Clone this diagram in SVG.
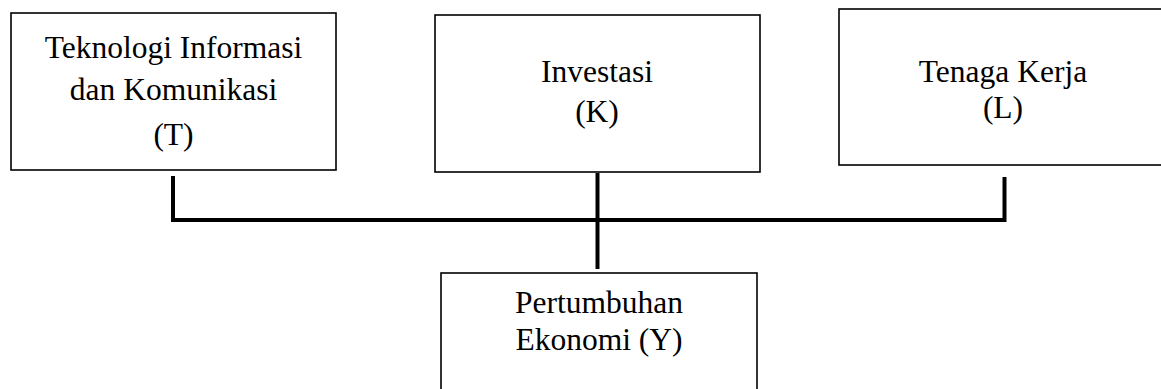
<svg xmlns="http://www.w3.org/2000/svg" width="1161" height="389" viewBox="0 0 1161 389">
<style>
.box{fill:#fff;stroke:#000;stroke-width:1.6}
.t{font-family:"Liberation Serif","Times New Roman",serif;font-size:31.5px;fill:#000;text-anchor:middle}
.c{stroke:#000;stroke-width:4;fill:none;stroke-linecap:square}
</style>
<rect width="1161" height="389" fill="#fff"/>
<g id="node-T">
<rect class="box" x="11" y="13" width="325" height="157"/>
<text class="t" x="173.5" y="58">Teknologi Informasi</text>
<text class="t" x="173.5" y="100">dan Komunikasi</text>
<text class="t" x="173.5" y="145">(T)</text>
</g>
<g id="node-K">
<rect class="box" x="435" y="15" width="325" height="157"/>
<text class="t" x="597" y="82">Investasi</text>
<text class="t" x="597" y="122">(K)</text>
</g>
<g id="node-L">
<rect class="box" x="839" y="9" width="330" height="156"/>
<text class="t" x="1003" y="82">Tenaga Kerja</text>
<text class="t" x="1003" y="118">(L)</text>
</g>
<g id="node-Y">
<rect class="box" x="441" y="273" width="316" height="130"/>
<text class="t" x="599" y="313">Pertumbuhan</text>
<text class="t" x="599" y="350">Ekonomi (Y)</text>
</g>
<g id="connectors">
<path class="c" d="M173 178 V220 H1004.5 V179"/>
<path class="c" d="M597.5 175 V267"/>
</g>
</svg>
